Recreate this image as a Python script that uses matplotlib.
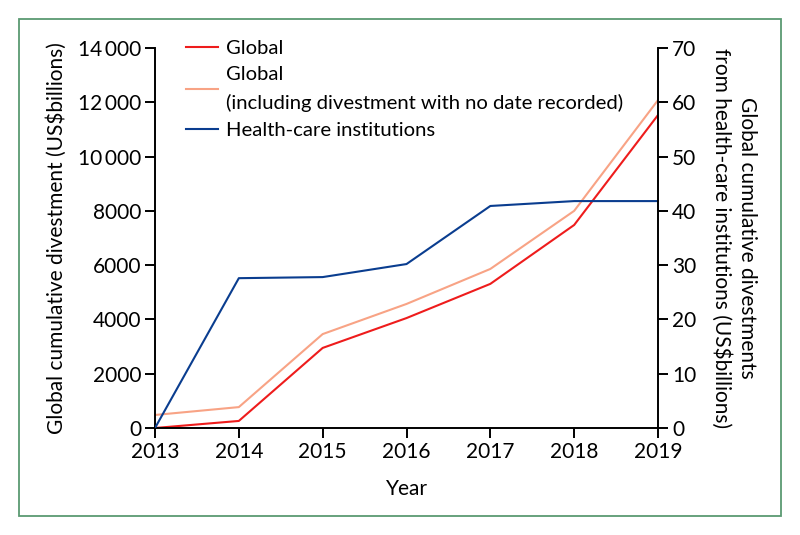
import matplotlib
matplotlib.use("Agg")
import matplotlib.pyplot as plt
from matplotlib.patches import Rectangle
from matplotlib.ticker import FuncFormatter

years = [2013, 2014, 2015, 2016, 2017, 2018, 2019]
global_div = [0, 260, 2950, 4050, 5310, 7480, 11530]
global_nodate = [480, 770, 3460, 4570, 5860, 8000, 12080]
health_care = [0, 27.6, 27.8, 30.2, 40.9, 41.8, 41.8]

left_ticks = [0, 2000, 4000, 6000, 8000, 10000, 12000, 14000]
right_ticks = [0, 10, 20, 30, 40, 50, 60, 70]

plt.rcParams['font.family'] = ['Lato', 'DejaVu Sans']
plt.rcParams['font.size'] = 15

fig = plt.figure(figsize=(8, 5.35), dpi=100)
ax = fig.add_axes([155/800, 1-428/535, (658-155)/800, (428-48)/535])
ax2 = ax.twinx()

c_red = '#ee1c1c'
c_light = '#f8a385'
c_blue = '#0a3d8f'

l1, = ax.plot(years, global_div, color=c_red, lw=1.5, label='Global')
l2, = ax.plot(years, global_nodate, color=c_light, lw=1.5,
              label='Global\n(including divestment with no date recorded)')
l3, = ax2.plot(years, health_care, color=c_blue, lw=1.5, label='Health-care institutions')

ax.set_xlim(2013, 2019)
ax.set_ylim(0, 14000)
ax2.set_ylim(0, 70)
ax.set_xticks(years)
ax.set_yticks(left_ticks)
ax2.set_yticks(right_ticks)

def fmt(v, pos):
    v = int(v)
    if v >= 10000:
        return f"{v // 1000}\u2009{v % 1000:03d}"
    return str(v)
ax.yaxis.set_major_formatter(FuncFormatter(fmt))

for a in (ax, ax2):
    a.spines['top'].set_visible(False)
    for s in a.spines.values():
        s.set_linewidth(1.4)
    a.tick_params(direction='out', length=7, width=1.4, labelsize=15, pad=3)
ax.spines['right'].set_visible(False)
ax2.spines['left'].set_visible(False)
ax2.spines['bottom'].set_visible(False)

ax.set_xlabel('Year', fontsize=15, labelpad=12)
ax.set_ylabel('Global cumulative divestment (US$billions)', fontsize=15, labelpad=8)
ax2.set_ylabel('Global cumulative divestments\nfrom health-care institutions (US$billions)',
               fontsize=15, rotation=270, labelpad=44, linespacing=1.3)

leg = ax.legend(handles=[l1, l2, l3], loc='upper left', bbox_to_anchor=(0.045, 1.042),
                frameon=False, fontsize=14.6, handlelength=1.6, handletextpad=0.4,
                labelspacing=0.45, borderaxespad=0)
for t in leg.get_texts():
    t.set_linespacing(1.72)

fig.patches.append(Rectangle((19/800, 1-516/535), (781-19)/800, (516-19)/535,
                             transform=fig.transFigure, fill=False,
                             edgecolor='#5a9a72', lw=1.3))

fig.savefig('out.png', dpi=100)
